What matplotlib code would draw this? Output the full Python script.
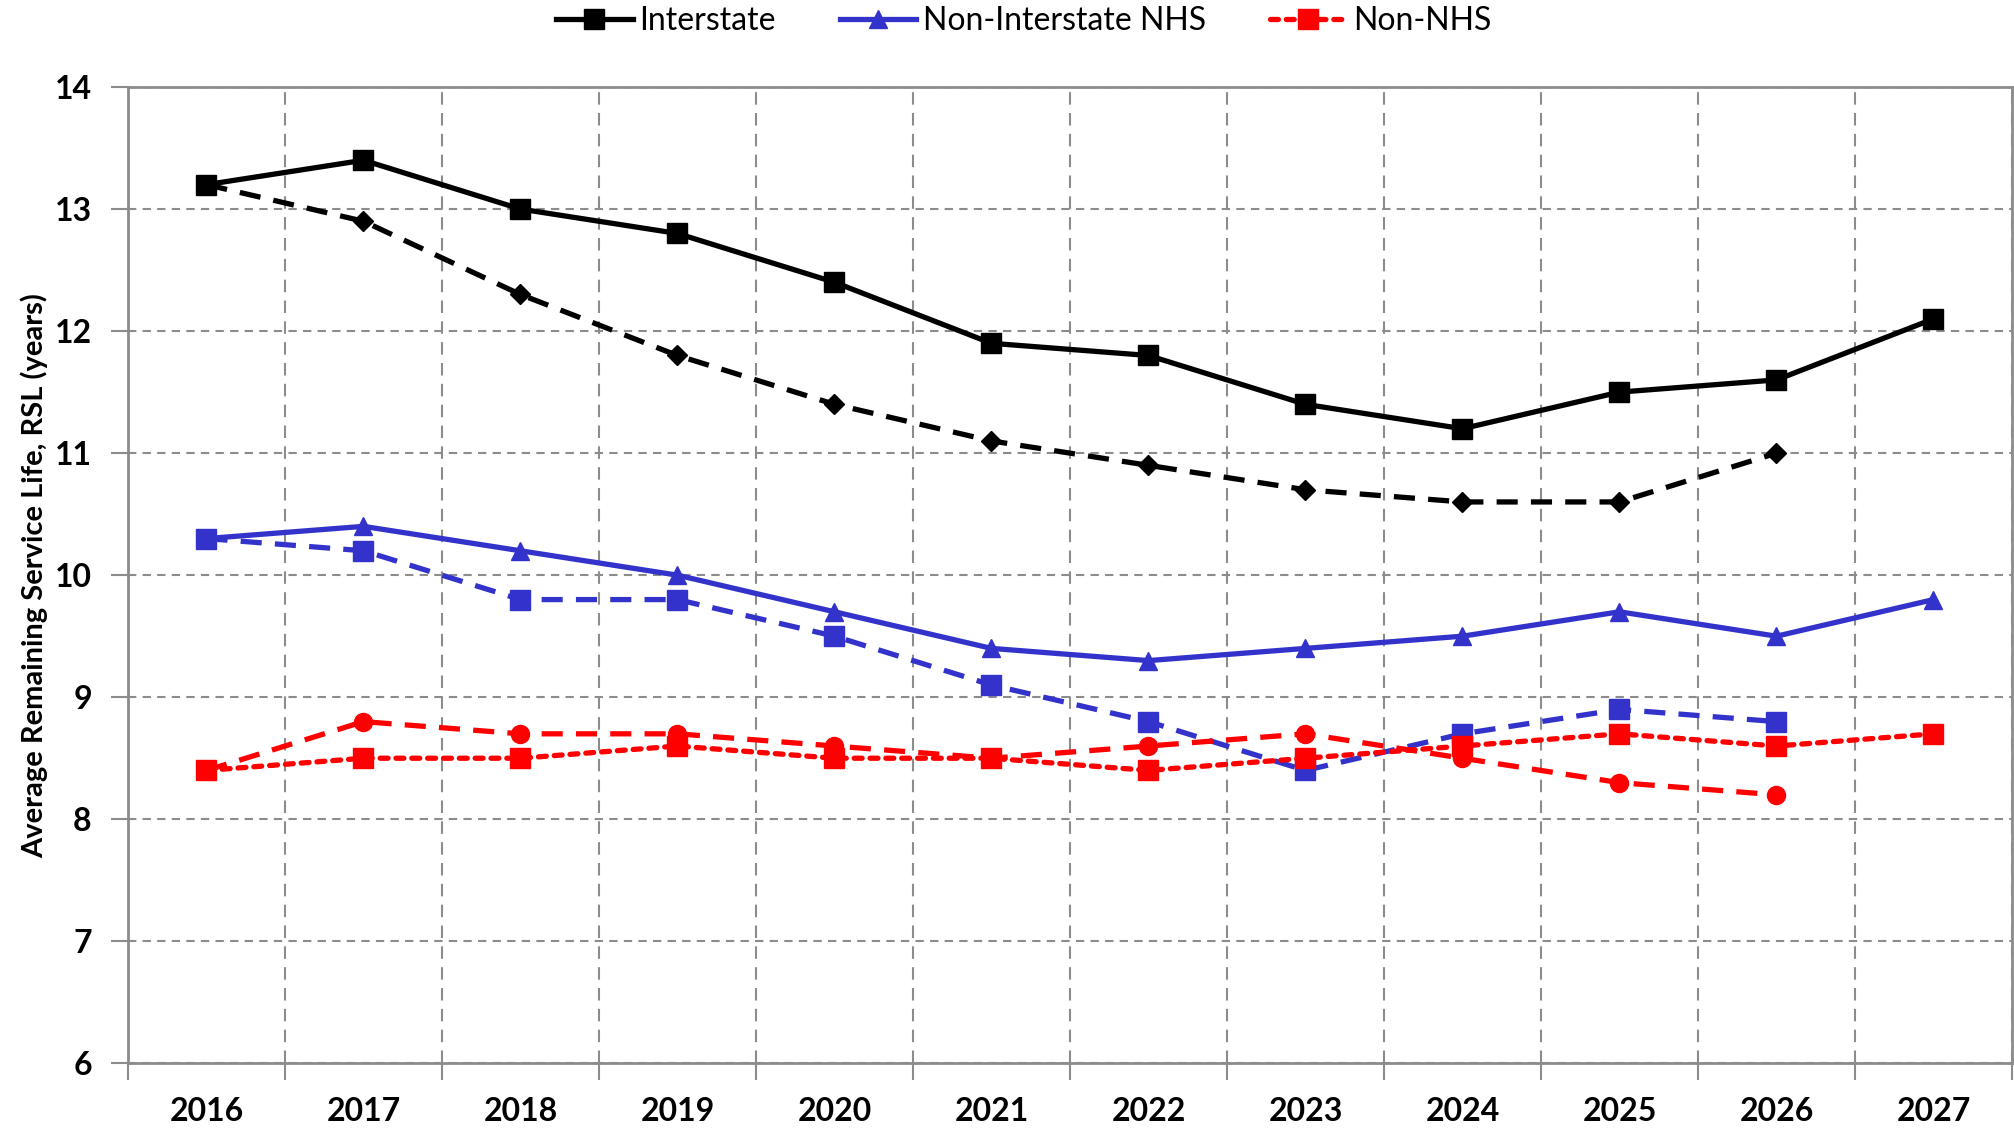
import matplotlib.pyplot as plt
import numpy as np
from matplotlib.ticker import FixedLocator

plt.rcParams['font.family'] = ['Lato', 'DejaVu Sans']

years = ['2016', '2017', '2018', '2019', '2020', '2021',
         '2022', '2023', '2024', '2025', '2026', '2027']

# solid / labelled series (2016-2027)
interstate = [13.2, 13.4, 13.0, 12.8, 12.4, 11.9, 11.8, 11.4, 11.2, 11.5, 11.6, 12.1]
non_int_nhs = [10.3, 10.4, 10.2, 10.0, 9.7, 9.4, 9.3, 9.4, 9.5, 9.7, 9.5, 9.8]
non_nhs = [8.4, 8.5, 8.5, 8.6, 8.5, 8.5, 8.4, 8.5, 8.6, 8.7, 8.6, 8.7]

# dashed series (2016-2026)
interstate_b = [13.2, 12.9, 12.3, 11.8, 11.4, 11.1, 10.9, 10.7, 10.6, 10.6, 11.0]
non_int_nhs_b = [10.3, 10.2, 9.8, 9.8, 9.5, 9.1, 8.8, 8.4, 8.7, 8.9, 8.8]
non_nhs_b = [8.4, 8.8, 8.7, 8.7, 8.6, 8.5, 8.6, 8.7, 8.5, 8.3, 8.2]

BLUE = '#3333CC'
RED = '#FF0000'
GRID = '#8c8c8c'
LW = 3.8

fig = plt.figure(figsize=(20.15, 11.3), dpi=100)
ax = fig.add_axes([0.0635, 0.059, 0.935, 0.864])

x = np.arange(len(years))
xb = np.arange(len(interstate_b))

# dashed (secondary) series first
ax.plot(xb, interstate_b, color='black', lw=LW, ls=(0, (4, 2.5)),
        marker='D', ms=10, zorder=3)
ax.plot(xb, non_int_nhs_b, color=BLUE, lw=LW, ls=(0, (4, 2.5)),
        marker='s', ms=14, zorder=3)
ax.plot(xb, non_nhs_b, color=RED, lw=LW, ls=(0, (4, 2.5)),
        marker='o', ms=13, zorder=3)

# labelled series
ax.plot(x, interstate, color='black', lw=LW, marker='s', ms=14,
        label='Interstate', zorder=4)
ax.plot(x, non_int_nhs, color=BLUE, lw=LW, marker='^', ms=13,
        label='Non-Interstate NHS', zorder=4)
ax.plot(x, non_nhs, color=RED, lw=LW, ls=(0, (1.5, 1.5)),
        dash_capstyle='round', marker='s', ms=14, label='Non-NHS', zorder=4)

ax.set_xlim(-0.5, len(years) - 0.5)
ax.set_ylim(6, 14)
ax.set_yticks(range(6, 15))

ax.set_xticks(x)
ax.set_xticklabels(years, fontsize=23, fontweight='bold')
ax.xaxis.set_minor_locator(FixedLocator(np.arange(-0.5, len(years), 1.0)))
ax.tick_params(axis='x', which='major', length=0, pad=24)
ax.tick_params(axis='x', which='minor', length=12, width=1.5, color=GRID)
ax.tick_params(axis='y', length=12, width=1.5, color=GRID, labelsize=23, pad=14)
for lab in ax.get_yticklabels():
    lab.set_fontweight('bold')

ax.grid(True, axis='y', which='major', color=GRID, ls=(0, (4, 3)), lw=1.5)
ax.grid(True, axis='x', which='minor', color=GRID, ls=(0, (6, 4)), lw=1.5)
ax.set_axisbelow(True)

for s in ax.spines.values():
    s.set_color(GRID)
    s.set_linewidth(2)

ax.set_ylabel('Average Remaining Service Life, RSL (years)', fontsize=21,
              fontweight='bold', labelpad=5)

fig.legend(loc='center', bbox_to_anchor=(0.508, 0.981), ncol=3, frameon=False,
           fontsize=23, handlelength=2.4, columnspacing=2.0, handletextpad=0.2,
           borderaxespad=0.0)

fig.savefig('out.png', dpi=100)
